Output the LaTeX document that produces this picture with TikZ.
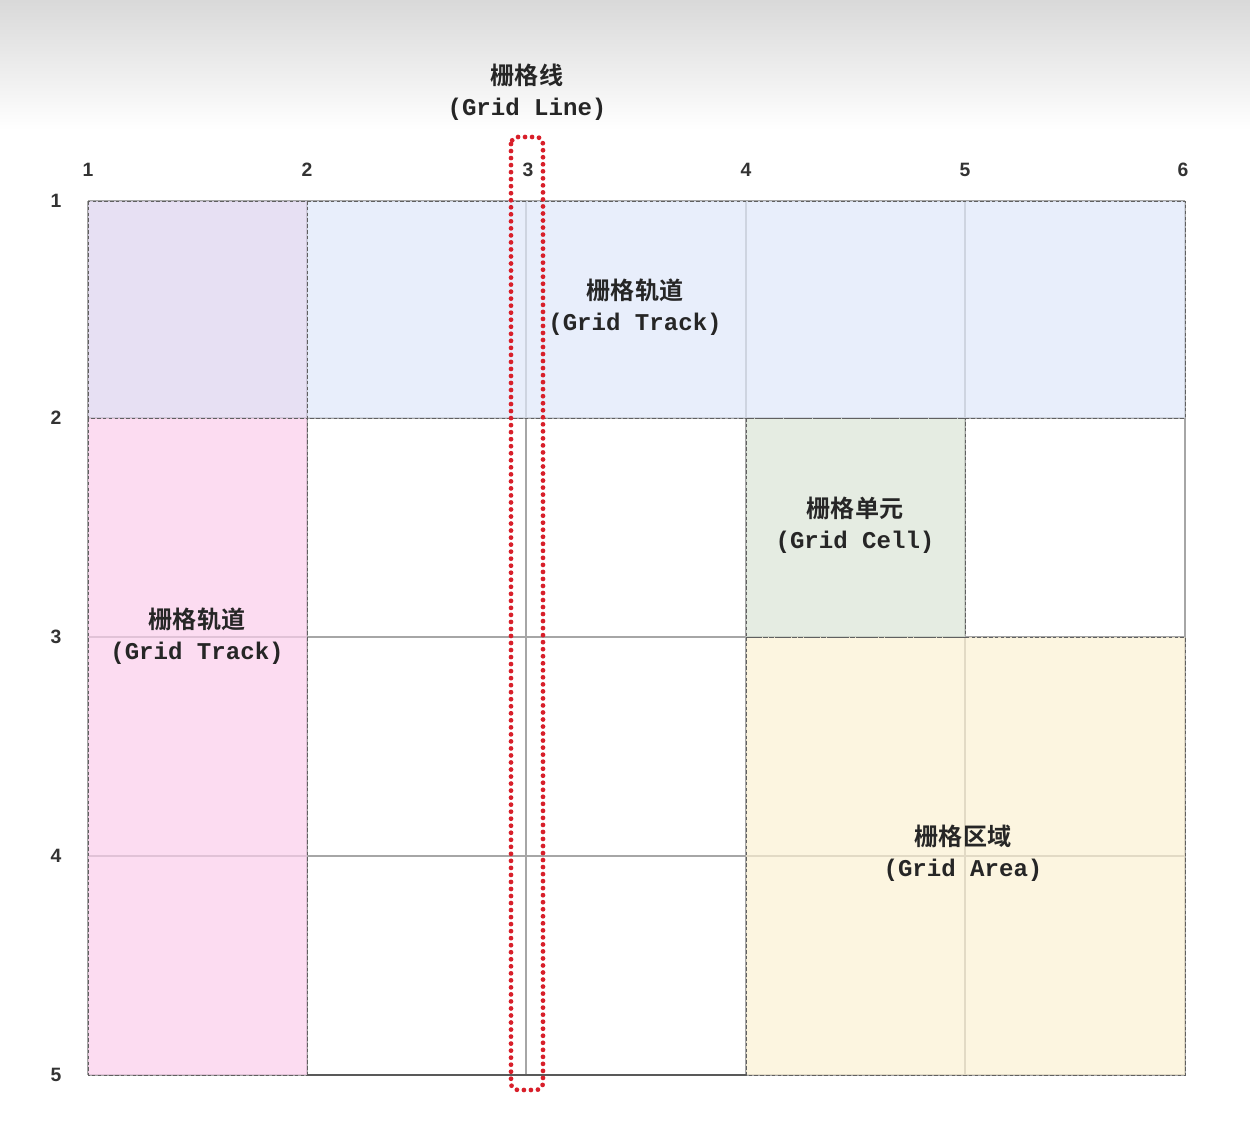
\documentclass[tikz,border=0pt]{standalone}
\usepackage{fontspec}
\setmainfont{Liberation Sans}
\setmonofont{Liberation Mono}
\newfontfamily\cjk[BoldFont={Noto Sans CJK SC Bold}]{Noto Sans CJK SC}

\definecolor{trackblue}{HTML}{DFE8FA}
\definecolor{cornerlilac}{HTML}{DED4EE}
\definecolor{trackpink}{HTML}{FBCEEC}
\definecolor{cellgreen}{HTML}{DAE5D7}
\definecolor{areayellow}{HTML}{FCF1D3}
\definecolor{linered}{HTML}{D81F2A}

\begin{document}
\begin{tikzpicture}[x=0.02cm, y=-0.02cm,
    gridline/.style={draw=gray!70, line width=0.9pt},
    region/.style={fill opacity=0.7},
    regionedge/.style={draw=gray!75!black, line width=0.55pt, dash pattern=on 2pt off 1.3pt},
    linenum/.style={font=\bfseries\fontsize{11}{13}\selectfont, text=black!80},
    areatext/.style={align=center, text=black!85, font=\bfseries\fontsize{13.7}{17.6}\selectfont},
    hilite/.style={draw=linered, line width=2.7pt, line cap=round,
      dash pattern=on 0pt off 4pt, rounded corners=4pt},
  ]
  \useasboundingbox (0,0) rectangle (1250,1131);
  \fill[white] (0,0) rectangle (1250,1131);
  \shade[top color=black!15, bottom color=white] (0,0) rectangle (1250,130);

  % grid lines
  \foreach \x in {88,307,526,746,965,1185} {
    \draw[gridline] (\x,201) -- (\x,1075);
  }
  \foreach \y in {201,418,637,856,1075} {
    \draw[gridline] (88,\y) -- (1185,\y);
  }

  % coloured tracks, cell and area
  \fill[region, cornerlilac] (88,201) rectangle (307,418);
  \fill[region, trackblue] (307,201) rectangle (1185,418);
  \fill[region, trackpink] (88,418) rectangle (307,1075);
  \fill[region, cellgreen] (746,418) rectangle (965,637);
  \fill[region, areayellow] (746,637) rectangle (1185,1075);
  \draw[regionedge] (88,201) rectangle (307,418);
  \draw[regionedge] (307,201) rectangle (1185,418);
  \draw[regionedge] (88,418) rectangle (307,1075);
  \draw[regionedge] (746,418) rectangle (965,637);
  \draw[regionedge] (746,637) rectangle (1185,1075);
  \draw[gray!70!black, line width=1.1pt] (307,1075) -- (746,1075);

  % line numbers
  \foreach \n/\x in {1/88,2/307,3/528,4/746,5/965,6/1183} {
    \node[linenum] (col\n) at (\x,170) {\n};
  }
  \foreach \n/\y in {1/201,2/418,3/637,4/856,5/1075} {
    \node[linenum] (row\n) at (56,\y) {\n};
  }

  \node[areatext] (gridline) at (527,92) {{\cjk 栅格线}\\{\ttfamily (Grid Line)}};
  \node[areatext] (rowtrack) at (635,307) {{\cjk 栅格轨道}\\{\ttfamily (Grid Track)}};
  \node[areatext] (cell) at (855,525) {{\cjk 栅格单元}\\{\ttfamily (Grid Cell)}};
  \node[areatext] (coltrack) at (197,636) {{\cjk 栅格轨道}\\{\ttfamily (Grid Track)}};
  \node[areatext] (area) at (963,853) {{\cjk 栅格区域}\\{\ttfamily (Grid Area)}};

  % highlighted grid line 3
  \draw[hilite] (511,137) rectangle (543,1090);
\end{tikzpicture}
\end{document}
